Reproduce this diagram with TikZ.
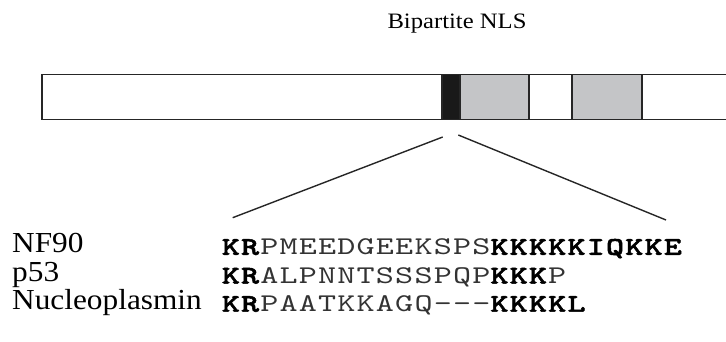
\documentclass[tikz,border=0pt]{standalone}
\usepackage{fontspec}
\setmainfont{Liberation Serif}
\newfontfamily\labfont[FakeStretch=1.08]{Liberation Serif}
\newfontfamily\titfont[FakeStretch=1.12]{Liberation Serif}
\newfontfamily\seqfont[Extension=.otf, UprightFont=lmmono10-regular, BoldFont=lmmonolt10-bold, BoldFeatures={FakeBold=2}, FakeStretch=1.35, LetterSpace=4.7]{lmmono10-regular}
\definecolor{nlsgray}{HTML}{C4C5C7}
\definecolor{thin}{HTML}{333333}
\tikzset{
  seg/.style={draw=black!85, line width=1.5pt, inner sep=0pt, minimum height=45pt, anchor=north west},
  zoomline/.style={draw=black!85, line width=1.4pt},
  lab/.style={anchor=base west, inner sep=0pt, font=\labfont\fontsize{29}{29}\selectfont},
  seqtxt/.style={anchor=base west, inner sep=0pt, text=thin, font=\seqfont\fontsize{25.5}{25.5}\selectfont},
  title/.style={anchor=base, inner sep=0pt, font=\titfont\fontsize{22}{22}\selectfont}
}
\newcommand{\bk}[1]{\textcolor{black}{\textbf{#1}}}
\begin{document}
\begin{tikzpicture}[x=1pt,y=-1pt]
\useasboundingbox (0,0) rectangle (726,341);
% bar
\node[seg, minimum width=400pt] (left) at (41,73.5) {};
\node[seg, minimum width=18pt, fill=black!90] (blk) at (441,73.5) {};
\node[seg, minimum width=69pt, fill=nlsgray] (g1) at (459,73.5) {};
\node[seg, minimum width=43pt] (mid) at (528,73.5) {};
\node[seg, minimum width=70pt, fill=nlsgray] (g2) at (571,73.5) {};
\node[seg, minimum width=90pt] (right) at (641,73.5) {};
% title
\node[title] (bip) at (457,28.3) {Bipartite NLS};
% zoom lines
\coordinate (zl1) at (442.7,137);
\coordinate (zl2) at (232.7,217.7);
\coordinate (zr1) at (458.3,135);
\coordinate (zr2) at (666,220);
\draw[zoomline] (zl1) -- (zl2);
\draw[zoomline] (zr1) -- (zr2);
% labels
\node[lab] (nf) at (12,252.7) {NF90};
\node[lab] (p53) at (12,281) {p53};
\node[lab] (nuc) at (12,309.3) {Nucleoplasmin};
% sequences
\node[seqtxt] (snf) at (221.6,254.8) {\bk{KR}PMEEDGEEKSPS\bk{KKKKKIQKKE}};
\node[seqtxt] (sp53) at (221.6,283.5) {\bk{KR}ALPNNTSSSPQP\bk{KKK}P};
\node[seqtxt] (snuc) at (221.6,311.7) {\bk{KR}PAATKKAGQ---\bk{KKKKL}};
\end{tikzpicture}
\end{document}
